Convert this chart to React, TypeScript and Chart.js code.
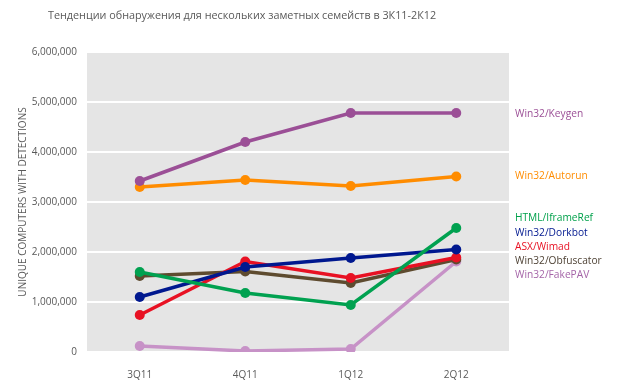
import React, { useEffect, useRef } from "react";
import { Chart, registerables } from "chart.js";

Chart.register(...registerables);

const TITLE = "Тенденции обнаружения для нескольких заметных семейств в 3К11-2К12";
const Y_TITLE = "UNIQUE COMPUTERS WITH DETECTIONS";
const categories = ["3Q11", "4Q11", "1Q12", "2Q12"];

const seriesNames = [
  "Win32/Keygen",
  "Win32/Autorun",
  "HTML/IframeRef",
  "Win32/Dorkbot",
  "ASX/Wimad",
  "Win32/Obfuscator",
  "Win32/FakePAV",
];
const keygen = [3420000, 4200000, 4780000, 4780000];
const autorun = [3300000, 3440000, 3320000, 3510000];
const iframeRef = [1600000, 1180000, 940000, 2480000];
const dorkbot = [1100000, 1700000, 1880000, 2050000];
const wimad = [740000, 1810000, 1480000, 1890000];
const obfuscator = [1520000, 1610000, 1380000, 1850000];
const fakePAV = [120000, 20000, 60000, 1810000];

const lineColors = ["#9b4f96", "#ff8c00", "#00a150", "#00188f", "#e81123", "#5e4b2f", "#c792c7"];
const labelColors = ["#9b4f96", "#ff8c00", "#00a14b", "#00188f", "#e81123", "#4f4336", "#a565a8"];
const seriesValues = [keygen, autorun, iframeRef, dorkbot, wimad, obfuscator, fakePAV];

const FONT = "'Open Sans', 'Noto Sans', sans-serif";

const decorPlugin = {
  id: "decor",
  beforeDraw(chart: any) {
    const { ctx, chartArea } = chart;
    ctx.save();
    ctx.fillStyle = "#e5e5e5";
    ctx.fillRect(chartArea.left, chartArea.top, chartArea.right - chartArea.left, chartArea.bottom - chartArea.top);
    ctx.restore();
  },
  afterDraw(chart: any) {
    const { ctx, chartArea, scales } = chart;
    ctx.save();
    // title
    ctx.fillStyle = "#595959";
    ctx.font = `10.8px ${FONT}`;
    ctx.textBaseline = "middle";
    ctx.textAlign = "left";
    ctx.fillText(TITLE, 48, 16);
    // y title
    ctx.save();
    ctx.translate(23, (chartArea.top + chartArea.bottom) / 2);
    ctx.rotate(-Math.PI / 2);
    ctx.textAlign = "center";
    ctx.font = `10px ${FONT}`;
    ctx.fillText(Y_TITLE, 0, 0);
    ctx.restore();
    // series labels
    ctx.font = `10.2px ${FONT}`;
    ctx.textAlign = "left";
    const x = chartArea.right + 6;
    const last = categories.length - 1;
    const y0 = scales.y.getPixelForValue(keygen[last]);
    const y1 = scales.y.getPixelForValue(autorun[last]);
    const stackStart = 218.5;
    const step = 14.2;
    seriesNames.forEach((name, i) => {
      let y;
      if (i === 0) y = y0 + 1;
      else if (i === 1) y = y1;
      else y = stackStart + (i - 2) * step;
      ctx.fillStyle = labelColors[i];
      ctx.fillText(name, x, y);
    });
    ctx.restore();
  },
};

export default function App() {
  const ref = useRef<HTMLCanvasElement>(null);
  useEffect(() => {
    if (!ref.current) return;
    const chart = new Chart(ref.current, {
      type: "line",
      data: {
        labels: categories,
        datasets: seriesNames.map((name, i) => ({
          label: name,
          data: seriesValues[i],
          borderColor: lineColors[i],
          backgroundColor: lineColors[i],
          borderWidth: 3.5,
          pointRadius: 5,
          pointHoverRadius: 5,
          pointBorderWidth: 0,
          tension: 0,
          fill: false,
        })),
      },
      options: {
        animation: false,
        responsive: true,
        maintainAspectRatio: false,
        events: [],
        layout: { padding: { left: 0, right: 110, top: 52, bottom: 0 } },
        plugins: {
          legend: { display: false },
          title: { display: false },
          tooltip: { enabled: false },
        },
        scales: {
          x: {
            offset: true,
            grid: { display: false },
            border: { display: false },
            ticks: { color: "#595959", font: { family: FONT, size: 10 }, padding: 9 },
            afterFit(scale: any) {
              scale.height = 37;
            },
          },
          y: {
            min: 0,
            max: 6000000,
            grid: { color: "#ffffff", lineWidth: 2, drawTicks: false },
            border: { display: false },
            ticks: {
              stepSize: 1000000,
              color: "#595959",
              font: { family: FONT, size: 10 },
              padding: 10,
              callback: (v: any) => Number(v).toLocaleString("en-US"),
            },
            afterFit(scale: any) {
              scale.width = 87;
            },
          },
        },
      },
      plugins: [decorPlugin],
    });
    return () => chart.destroy();
  }, []);
  return (
    <div style={{ position: "fixed", left: 0, top: 0, width: 619, height: 389, background: "#fff" }}>
      <canvas ref={ref} />
    </div>
  );
}
